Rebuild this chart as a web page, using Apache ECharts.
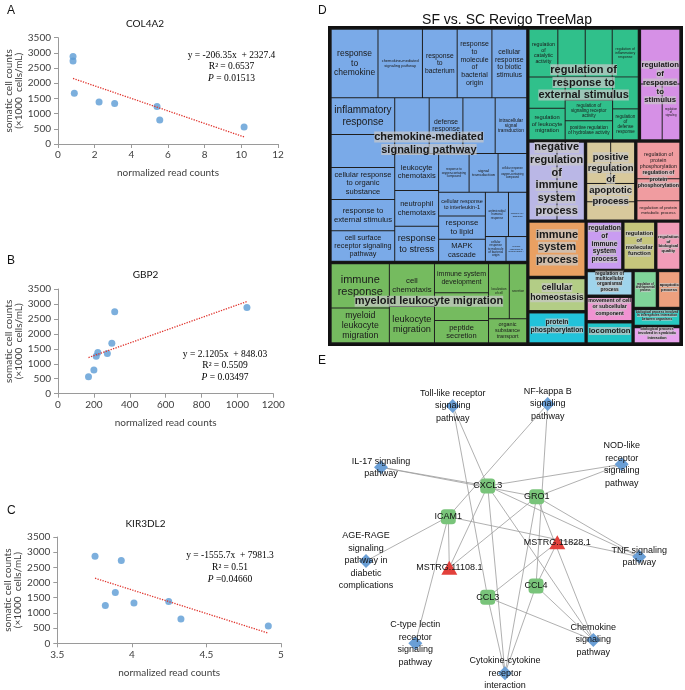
<!DOCTYPE html>
<html><head><meta charset="utf-8">
<script src="https://cdn.jsdelivr.net/npm/echarts@6/dist/echarts.min.js"></script>
<style>html,body{margin:0;padding:0;background:#fff;} #c{width:685px;height:690px;}</style>
</head><body><div id="c"></div>
<script>
// ================= DATA =================
// Panel A: COL4A2
const colX = [0.82, 0.82, 0.89, 2.24, 3.09, 5.40, 5.55, 10.15];
const colY = [2880, 2735, 1675, 1380, 1335, 1235, 790, 560];
const colFit = [-206.35, 2327.4];
const colText = 'y = -206.35x  + 2327.4\nR² = 0.6537\n{i|P} = 0.01513';
// Panel B: GBP2
const gbpX = [170, 200, 213, 222, 275, 300, 316, 1053];
const gbpY = [570, 790, 1250, 1380, 1340, 1685, 2740, 2885];
const gbpFit = [2.1205, 848.03];
const gbpText = 'y = 2.1205x  + 848.03\nR² = 0.5509\n{i|P} = 0.03497';
// Panel C: KIR3DL2
const kirX = [3.753, 3.929, 3.889, 3.822, 4.014, 4.247, 4.329, 4.915];
const kirY = [2870, 2725, 1670, 1245, 1330, 1375, 800, 570];
const kirFit = [-1555.7, 7981.3];
const kirText = 'y = -1555.7x  + 7981.3\nR² = 0.51\n{i|P} =0.04660';

// Panel D: Revigo treemap
const tmGroupNames = [
  'chemokine-mediated signaling pathway', 'myeloid leukocyte migration',
  'regulation of response to external stimulus', 'regulation of response to stimulus',
  'negative regulation of immune system process', 'positive regulation of apoptotic process',
  'regulation of protein phosphorylation', 'immune system process',
  'regulation of immune system process', 'regulation of molecular function',
  'regulation of biological quality', 'cellular homeostasis', 'protein phosphorylation',
  'regulation of multicellular organismal process', 'regulation of developmental process',
  'biological process involved in interspecies interaction between organisms',
  'movement of cell or subcellular component', 'apoptotic process',
  'biological process involved in symbiotic interaction', 'locomotion'
];
const tmTermNames = [
  'response to chemokine', 'chemokine-mediated signaling pathway', 'inflammatory response', 'cellular response to biotic stimulus',
  'response to molecule of bacterial origin', 'cellular response to organic substance', 'cell surface receptor signaling pathway', 'defense response',
  'response to bacterium', 'response to stress', 'response to external stimulus', 'response to cytokine',
  'response to organic substance', 'intracellular signal transduction',
  'cellular response to chemokine', 'leukocyte chemotaxis', 'neutrophil chemotaxis',
  'cellular response to interleukin-1', 'response to oxygen-containing compound', 'cellular response to oxygen-containing compound',
  'MAPK cascade', 'signal transduction', 'calcium-mediated signaling', 'response to lipid', 'antimicrobial humoral response',
  'cellular response to lipopolysaccharide', 'cellular response to molecule of bacterial origin',
  'immune response', 'myeloid leukocyte migration', 'cell chemotaxis', 'hemopoiesis', 'immune system development',
  'leukocyte migration', 'peptide secretion', 'localization of cell', 'secretion', 'organic substance transport',
  'positive regulation of response to stimulus', 'regulation of catalytic activity', 'regulation of inflammatory response',
  'regulation of response to external stimulus', 'regulation of leukocyte migration', 'regulation of chemotaxis', 'regulation of cell migration',
  'regulation of response to stress', 'regulation of signaling receptor activity', 'positive regulation of hydrolase activity', 'regulation of defense response',
  'regulation of response to stimulus', 'regulation of cell communication', 'regulation of signaling',
  'negative regulation of immune system process', 'negative regulation of immune response',
  'positive regulation of apoptotic process', 'positive regulation of programmed cell death', 'regulation of apoptotic process', 'regulation of cell death',
  'regulation of phosphorus metabolic process', 'regulation of protein phosphorylation', 'regulation of protein metabolic process',
  'immune system process', 'regulation of immune system process', 'regulation of molecular function', 'regulation of biological quality',
  'cellular homeostasis', 'protein phosphorylation', 'regulation of multicellular organismal process', 'regulation of developmental process',
  'biological process involved in interspecies interaction between organisms', 'movement of cell or subcellular component',
  'apoptotic process', 'biological process involved in symbiotic interaction', 'locomotion'
];
const tmTermSizes = [
  3300, 3135, 2400, 2450, 2450, 2090, 2000, 1930, 2450, 1575, 2040, 2140, 1970, 1800,
  1845, 1665, 1620, 1140, 1216, 1140, 1056, 1155, 825, 1120, 1050, 525, 525,
  2700, 2120, 2020, 1580, 1640, 1720, 1260, 1200, 1000, 960,
  1370, 1440, 1300, 1350, 1190, 1150, 860, 1190, 1040, 940, 830,
  1310, 2340, 1070,
  2350, 2300,
  1075, 1075, 950, 950,
  1035, 1710, 900,
  3300, 1820, 1630, 1250, 2000, 1890, 1220, 930, 870, 1200, 900, 840, 1050
];
const tmTermGroup = [
  0,0,0,0,0,0,0,0,0,0,0,0,0,0,0,0,0,0,0,0,0,0,0,0,0,0,0,
  1,1,1,1,1,1,1,1,1,1,
  2,2,2,2,2,2,2,2,2,2,2,
  3,3,3,
  4,4,
  5,5,5,5,
  6,6,6,
  7,8,9,10,11,12,13,14,15,16,17,18,19
];

// Panel E: network
const netNames = [
  'Toll-like receptor signaling pathway', 'NF-kappa B signaling pathway', 'NOD-like receptor signaling pathway',
  'IL-17 signaling pathway', 'CXCL3', 'GRO1', 'ICAM1', 'MSTRG.11828.1', 'MSTRG.11108.1',
  'AGE-RAGE signaling pathway in diabetic complications', 'TNF signaling pathway', 'CCL4', 'CCL3',
  'C-type lectin receptor signaling pathway', 'Chemokine signaling pathway', 'Cytokine-cytokine receptor interaction'
];
const netLabels = [
  'Toll-like receptor\nsignaling\npathway', 'NF-kappa B\nsignaling\npathway', 'NOD-like\nreceptor\nsignaling\npathway',
  'IL-17 signaling\npathway', 'CXCL3', 'GRO1', 'ICAM1', 'MSTRG.11828.1', 'MSTRG.11108.1',
  'AGE-RAGE\nsignaling\npathway in\ndiabetic\ncomplications', 'TNF signaling\npathway', 'CCL4', 'CCL3',
  'C-type lectin\nreceptor\nsignaling\npathway', 'Chemokine\nsignaling\npathway', 'Cytokine-cytokine\nreceptor\ninteraction'
];
const netType = ['pathway','pathway','pathway','pathway','gene','gene','gene','lncRNA','lncRNA','pathway','pathway','gene','gene','pathway','pathway','pathway'];
const netX = [142.7, 237.7, 311.7, 71, 177.7, 226.7, 138.3, 247.3, 139.3, 56, 329.3, 226, 177.7, 105.3, 283.3, 195];
const netY = [66, 64, 124.3, 127.3, 146, 156.7, 176.7, 202.3, 227.7, 221, 216.7, 246, 257.3, 303.3, 300, 333.3];
const netEdges = [
  [0,4],[0,12],[1,6],[1,11],[3,4],[3,5],[2,4],[2,5],[10,4],[10,5],[10,6],[9,6],[13,6],
  [15,4],[15,5],[15,11],[15,12],[14,4],[14,5],[14,11],[14,12],[8,6],[8,4],[8,5],[7,12],[7,11]
];

// ================= STYLE =================
const tmGroupColors = [
  '#7aaae8', '#75bb5f', '#30c08b', '#d690e6', '#bab7e6', '#d8c99c', '#f09ca0', '#e9a062',
  '#c99cf1', '#c6c67c', '#f19cb8', '#b3cd86', '#22c3da', '#9fd4ec', '#80d49a', '#27c9c0',
  '#f193d2', '#eda07e', '#e9a3ee', '#20c4c6'
];
const XLF = 'Lato';
const SANS = 'Liberation Sans';
const SERIF = 'Liberation Serif';

const chart = echarts.init(document.getElementById('c'), null, {renderer: 'canvas', width: 685, height: 690});

const mctx = document.createElement('canvas').getContext('2d');
function tw(s, fs, bold) { mctx.font = (bold ? 'bold ' : '') + fs + 'px "' + SANS + '"'; return mctx.measureText(s).width; }
function wrapWords(words, fs, bold, maxW) {
  const lines = []; let cur = '';
  words.forEach(w => {
    const t = cur ? cur + ' ' + w : w;
    if (!cur || tw(t, fs, bold) <= maxW) cur = t; else { lines.push(cur); cur = w; }
  });
  if (cur) lines.push(cur);
  return lines;
}
function fitText(text, w, h, maxFs, bold, pad, lh, maxLine) {
  const words = text.split(' ');
  let fs = maxFs, lines;
  const avail = w - 2 * pad;
  for (; fs >= 2.5; fs -= 0.25) {
    lines = wrapWords(words, fs, bold, Math.min(avail, maxLine || 1e9));
    const mw = Math.max(...lines.map(l => tw(l, fs, bold)));
    if (mw <= avail && lines.length * fs * lh <= h - 2 * pad) return {fs, lines, w: mw, h: lines.length * fs * lh};
  }
  fs = 2.5; lines = wrapWords(words, fs, bold, avail);
  return {fs, lines, w: Math.max(...lines.map(l => tw(l, fs, bold))), h: lines.length * fs * lh};
}

const plainNum = v => String(v);
function xAxisCfg(gi, min, max, interval) {
  return {gridIndex: gi, type: 'value', min, max, interval,
    name: 'normalized read counts', nameLocation: 'middle', nameGap: 24,
    nameTextStyle: {fontSize: 10, color: '#404040', fontFamily: XLF},
    axisLine: {show: true, lineStyle: {color: '#9a9a9a'}},
    axisTick: {show: true, length: 4, lineStyle: {color: '#9a9a9a'}},
    axisLabel: {fontSize: 10, color: '#404040', fontFamily: XLF, margin: 6, formatter: plainNum},
    splitLine: {show: false}};
}
function yAxisCfg(gi) {
  return {gridIndex: gi, type: 'value', min: 0, max: 3500, interval: 500,
    name: 'somatic cell counts\n(×1000  cells/mL)', nameLocation: 'middle', nameGap: 28, nameRotate: 90,
    nameTextStyle: {fontSize: 10, color: '#404040', fontFamily: XLF, lineHeight: 10},
    axisLine: {show: true, lineStyle: {color: '#9a9a9a'}},
    axisTick: {show: true, length: 4, lineStyle: {color: '#9a9a9a'}},
    axisLabel: {fontSize: 10, color: '#404040', fontFamily: XLF, margin: 7, formatter: plainNum},
    splitLine: {show: false}};
}
function scatterSeries(gi, xs, ys) {
  return {type: 'scatter', xAxisIndex: gi, yAxisIndex: gi, data: xs.map((x, k) => [x, ys[k]]),
    symbolSize: 7, itemStyle: {color: '#5b9bd5'}, silent: true, z: 3};
}
function fitSeries(gi, xs, fit) {
  const x0 = Math.min(...xs), x1 = Math.max(...xs);
  return {type: 'line', xAxisIndex: gi, yAxisIndex: gi, data: [[x0, fit[0] * x0 + fit[1]], [x1, fit[0] * x1 + fit[1]]],
    symbol: 'none', silent: true, z: 4, lineStyle: {color: '#e0352e', width: 1.3, type: [1.3, 1.3]}};
}
function eqTitle(text, left, top) {
  return {text, left, top, textAlign: 'center',
    textStyle: {fontFamily: SERIF, fontSize: 9.5, fontWeight: 'normal', color: '#000', lineHeight: 11.7,
      rich: {i: {fontFamily: SERIF, fontSize: 9.5, fontStyle: 'italic', color: '#000', lineHeight: 11.7}}}};
}
function plainTitle(text, left, top, fs, fam, align) {
  const t = {text, left, top, textStyle: {fontFamily: fam, fontSize: fs, fontWeight: 'normal', color: '#111'}};
  if (align) t.textAlign = align;
  return t;
}

function buildOption(info) {
  const tmData = tmGroupNames.map((g, gi) => {
    const idx = tmTermGroup.map((gg, k) => gg === gi ? k : -1).filter(k => k >= 0);
    return {
      name: g, itemStyle: {color: tmGroupColors[gi]},
      children: idx.map((k, j) => {
        const it = {name: tmTermNames[k], value: tmTermSizes[k], itemStyle: {color: tmGroupColors[gi]}};
        if (info) {
          const L = info.leaves[gi][j];
          it.label = L.show ? {show: true, formatter: L.lines.join('\n'), fontSize: L.fs, lineHeight: L.fs * 1.12} : {show: false};
        } else it.label = {show: false};
        return it;
      })
    };
  });
  const ovData = tmGroupNames.map((g, gi) => {
    const sum = tmTermGroup.reduce((s, gg, k) => gg === gi ? s + tmTermSizes[k] : s, 0);
    const it = {name: g, value: sum};
    if (info) {
      const G = info.groups[gi];
      const pt = Math.max(0, (G.boxH - G.h) / 2 - 2);
      it.label = {show: true, padding: [pt, 0, pt, 0], formatter: G.lines.map(s => '{g|' + s + '}').join('\n'),
        rich: {g: {fontSize: G.fs, fontWeight: 'bold', fontFamily: SANS, color: '#1a1a1a',
          backgroundColor: 'rgba(200,200,200,0.72)', lineHeight: G.fs * 1.15}}};
    } else it.label = {show: false};
    return it;
  });

  const nodes = netNames.map((n, i) => {
    const t = netType[i];
    const sym = t === 'pathway' ? {symbol: 'diamond', symbolSize: 14, itemStyle: {color: '#6a9fd6'}}
      : t === 'gene' ? {symbol: 'roundRect', symbolSize: 15, itemStyle: {color: '#79c47a'}}
      : {symbol: 'triangle', symbolSize: [16, 14], itemStyle: {color: '#e2403b'}};
    return Object.assign({name: n, value: [netX[i], netY[i]], label: {formatter: netLabels[i]}}, sym);
  });

  return {
    animation: false,
    backgroundColor: '#fff',
    title: [
      plainTitle('A', 2, 0, 12, SANS), plainTitle('B', 2, 250, 12, SANS), plainTitle('C', 2, 500, 12, SANS),
      plainTitle('D', 313, 0, 12, SANS), plainTitle('E', 313, 350, 12, SANS),
      plainTitle('COL4A2', 140, 14, 10, XLF, 'center'),
      plainTitle('GBP2', 140.5, 265, 10, XLF, 'center'),
      plainTitle('KIR3DL2', 140.5, 514, 10, XLF, 'center'),
      eqTitle(colText, 226.5, 44.3), eqTitle(gbpText, 220, 343.3), eqTitle(kirText, 225, 545),
      plainTitle('SF vs. SC Revigo TreeMap', 502, 8, 14, SANS, 'center')
    ],
    grid: [
      {left: 58, top: 37.7, width: 220, height: 106.3},
      {left: 58, top: 289, width: 215.3, height: 104.7},
      {left: 57.3, top: 537, width: 223.7, height: 106.3},
      {left: 310, top: 340, width: 375, height: 350}
    ],
    xAxis: [
      xAxisCfg(0, 0, 12, 2), xAxisCfg(1, 0, 1200, 200), xAxisCfg(2, 3.5, 5, 0.5),
      {gridIndex: 3, type: 'value', min: 0, max: 375, show: false}
    ],
    yAxis: [
      yAxisCfg(0), yAxisCfg(1), yAxisCfg(2),
      {gridIndex: 3, type: 'value', min: 0, max: 350, inverse: true, show: false}
    ],
    series: [
      scatterSeries(0, colX, colY), fitSeries(0, colX, colFit),
      scatterSeries(1, gbpX, gbpY), fitSeries(1, gbpX, gbpFit),
      scatterSeries(2, kirX, kirY), fitSeries(2, kirX, kirFit),
      {
        type: 'treemap', left: 328, top: 26, width: 355, height: 320, z: 2,
        roam: false, nodeClick: false, breadcrumb: {show: false}, silent: true,
        label: {show: true, position: 'inside', color: '#1a1a1a', fontFamily: SANS, padding: 1},
        upperLabel: {show: false},
        levels: [
          {itemStyle: {borderWidth: 2, borderColor: '#111', gapWidth: 0}},
          {itemStyle: {borderWidth: 1.2, borderColor: '#151515', gapWidth: 0}},
          {itemStyle: {borderWidth: 0.5, borderColor: '#222', gapWidth: 0}}
        ],
        data: tmData
      },
      {
        type: 'treemap', left: 328, top: 26, width: 355, height: 320, z: 6,
        roam: false, nodeClick: false, breadcrumb: {show: false}, silent: true,
        label: {show: true, position: 'inside', color: '#1a1a1a', fontFamily: SANS, padding: 0},
        upperLabel: {show: false},
        levels: [
          {itemStyle: {borderWidth: 2, borderColor: 'rgba(0,0,0,0)', gapWidth: 0}},
          {itemStyle: {borderWidth: 0, borderColor: 'rgba(0,0,0,0)', color: 'rgba(0,0,0,0)', gapWidth: 0}}
        ],
        data: ovData
      },
      {
        type: 'graph', coordinateSystem: 'cartesian2d', xAxisIndex: 3, yAxisIndex: 3,
        silent: true, data: nodes,
        links: netEdges.map(e => ({source: e[0], target: e[1]})),
        lineStyle: {color: '#9c9c9c', width: 0.8, opacity: 1},
        label: {show: true, position: 'inside', fontSize: 9, lineHeight: 12.5, color: '#111', fontFamily: SANS},
        z: 5
      }
    ]
  };
}

chart.setOption(buildOption(null));

function computeLabels() {
  const sm = chart.getModel().getSeriesByIndex(6);
  const tree = sm.getData().tree;
  const info = {groups: [], leaves: []};
  tree.root.children.forEach((g, gi) => {
    const gl = g.getLayout();
    const gf = fitText(tmGroupNames[gi], gl.width, gl.height, 11, true, 2, 1.15, 150);
    gf.boxH = gl.height;
    info.groups[gi] = gf;
    const gb = {x0: gl.width / 2 - gf.w / 2, x1: gl.width / 2 + gf.w / 2, y0: gl.height / 2 - gf.h / 2, y1: gl.height / 2 + gf.h / 2};
    info.leaves[gi] = (g.children || []).map(l => {
      const ll = l.getLayout();
      const f = fitText(l.name, ll.width, ll.height, 11, false, 2.5, 1.12);
      const cx = ll.x + ll.width / 2, cy = ll.y + ll.height / 2;
      const b = {x0: cx - f.w / 2, x1: cx + f.w / 2, y0: cy - f.h / 2, y1: cy + f.h / 2};
      const ox = Math.max(0, Math.min(b.x1, gb.x1) - Math.max(b.x0, gb.x0));
      const oy = Math.max(0, Math.min(b.y1, gb.y1) - Math.max(b.y0, gb.y0));
      const frac = (ox * oy) / Math.max(1, f.w * f.h);
      return {show: frac < 0.1, fs: f.fs, lines: f.lines};
    });
  });
  return info;
}
let info = null;
try { info = computeLabels(); } catch (e) { console.error(e); }
if (info) chart.setOption(buildOption(info), true);
</script>
</body></html>
